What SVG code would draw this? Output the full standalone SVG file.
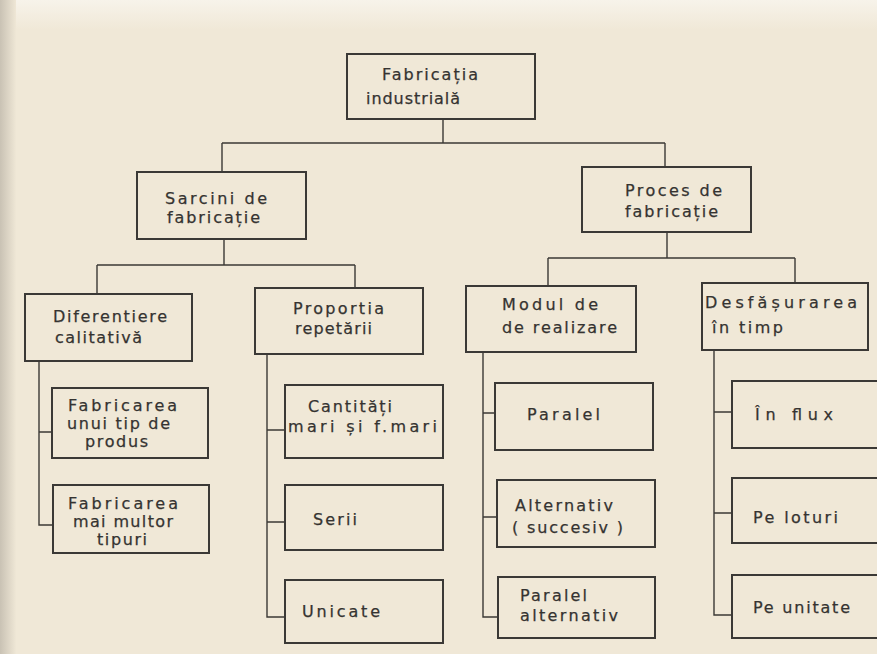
<svg xmlns="http://www.w3.org/2000/svg" width="877" height="654" viewBox="0 0 877 654">
<defs>
<linearGradient id="edge" x1="0" y1="0" x2="1" y2="0">
<stop offset="0" stop-color="#c9c2b4"/>
<stop offset="1" stop-color="#efe7d6"/>
</linearGradient>
<linearGradient id="top" x1="0" y1="0" x2="0" y2="1">
<stop offset="0" stop-color="#f7f3ea"/>
<stop offset="1" stop-color="#f0e8d7"/>
</linearGradient>
<style>
.bg{fill:#f0e8d7}
.box{fill:none;stroke:#3b3936;stroke-width:2}
.con{fill:none;stroke:#3b3936;stroke-width:1.4}
text{font-family:"DejaVu Sans","Liberation Sans",sans-serif;font-size:16px;fill:#353331;stroke:#353331;stroke-width:0.25}
</style>
</defs>
<rect class="bg" x="0" y="0" width="877" height="654"/>
<rect x="0" y="0" width="877" height="30" fill="url(#top)"/>
<rect x="0" y="0" width="16" height="654" fill="url(#edge)"/>

<g id="connectors">
<path class="con" d="M443,119 V143 M222,143 H665 M222,143 V172 M665,143 V167"/>
<path class="con" d="M224,239 V265 M97,265 H355 M97,265 V294 M355,265 V288"/>
<path class="con" d="M667,232 V258 M548,258 H795 M548,258 V286 M795,258 V283"/>
<path class="con" d="M39,361 V525 H53 M39,432 H52"/>
<path class="con" d="M267,354 V617 H285 M267,430 H285 M267,522 H285"/>
<path class="con" d="M483,352 V617 H498 M483,413 H495 M483,517 H497"/>
<path class="con" d="M714,350 V615 H732 M714,412 H732 M714,513 H732"/>
</g>

<g id="n-root"><rect class="box" x="347" y="54" width="188" height="65"/>
<text x="382" y="80" textLength="96" lengthAdjust="spacing">Fabricația</text>
<text x="366" y="104" textLength="94" lengthAdjust="spacing">industrială</text></g>

<g id="n-sarcini"><rect class="box" x="137" y="172" width="169" height="67"/>
<text x="165" y="204" textLength="102" lengthAdjust="spacing">Sarcini de</text>
<text x="167" y="223" textLength="93" lengthAdjust="spacing">fabricație</text></g>

<g id="n-proces"><rect class="box" x="582" y="167" width="169" height="65"/>
<text x="625" y="196" textLength="97" lengthAdjust="spacing">Proces de</text>
<text x="625" y="217" textLength="93" lengthAdjust="spacing">fabricație</text></g>

<g id="n-dif"><rect class="box" x="25" y="294" width="167" height="67"/>
<text x="53" y="322" textLength="114" lengthAdjust="spacing">Diferentiere</text>
<text x="55" y="343" textLength="87" lengthAdjust="spacing">calitativă</text></g>

<g id="n-prop"><rect class="box" x="255" y="288" width="168" height="66"/>
<text x="293" y="314" textLength="91" lengthAdjust="spacing">Proportia</text>
<text x="295" y="334" textLength="77" lengthAdjust="spacing">repetării</text></g>

<g id="n-modul"><rect class="box" x="466" y="286" width="170" height="66"/>
<text x="502" y="310" textLength="96" lengthAdjust="spacing">Modul de</text>
<text x="502" y="333" textLength="115" lengthAdjust="spacing">de realizare</text></g>

<g id="n-desf"><rect class="box" x="702" y="283" width="166" height="67"/>
<text x="705" y="308" textLength="152" lengthAdjust="spacing">Desfășurarea</text>
<text x="712" y="333" textLength="71" lengthAdjust="spacing">în timp</text></g>

<g id="n-fab1"><rect class="box" x="52" y="388" width="156" height="70"/>
<text x="68" y="411" textLength="109" lengthAdjust="spacing">Fabricarea</text>
<text x="67" y="429" textLength="103" lengthAdjust="spacing">unui tip de</text>
<text x="85" y="447" textLength="63" lengthAdjust="spacing">produs</text></g>

<g id="n-fab2"><rect class="box" x="53" y="485" width="156" height="68"/>
<text x="68" y="509" textLength="110" lengthAdjust="spacing">Fabricarea</text>
<text x="73" y="527" textLength="100" lengthAdjust="spacing">mai multor</text>
<text x="97" y="545" textLength="50" lengthAdjust="spacing">tipuri</text></g>

<g id="n-cant"><rect class="box" x="285" y="385" width="158" height="73"/>
<text x="308" y="412" textLength="84" lengthAdjust="spacing">Cantități</text>
<text x="288" y="432" textLength="149" lengthAdjust="spacing">mari și f.mari</text></g>

<g id="n-serii"><rect class="box" x="285" y="485" width="158" height="65"/>
<text x="313" y="525" textLength="44" lengthAdjust="spacing">Serii</text></g>

<g id="n-unicate"><rect class="box" x="285" y="580" width="158" height="63"/>
<text x="302" y="617" textLength="78" lengthAdjust="spacing">Unicate</text></g>

<g id="n-paralel"><rect class="box" x="495" y="383" width="158" height="67"/>
<text x="527" y="420" textLength="73" lengthAdjust="spacing">Paralel</text></g>

<g id="n-altern"><rect class="box" x="497" y="480" width="158" height="67"/>
<text x="515" y="511" textLength="98" lengthAdjust="spacing">Alternativ</text>
<text x="512" y="533" textLength="111" lengthAdjust="spacing">( succesiv )</text></g>

<g id="n-paralt"><rect class="box" x="498" y="577" width="157" height="61"/>
<text x="520" y="601" textLength="67" lengthAdjust="spacing">Paralel</text>
<text x="520" y="621" textLength="98" lengthAdjust="spacing">alternativ</text></g>

<g id="n-flux"><rect class="box" x="732" y="381" width="152" height="67"/>
<text x="755" y="420" textLength="78" lengthAdjust="spacing">În flux</text></g>

<g id="n-loturi"><rect class="box" x="732" y="478" width="152" height="65"/>
<text x="753" y="523" textLength="85" lengthAdjust="spacing">Pe loturi</text></g>

<g id="n-unitate"><rect class="box" x="732" y="575" width="152" height="63"/>
<text x="753" y="613" textLength="97" lengthAdjust="spacing">Pe unitate</text></g>
</svg>
